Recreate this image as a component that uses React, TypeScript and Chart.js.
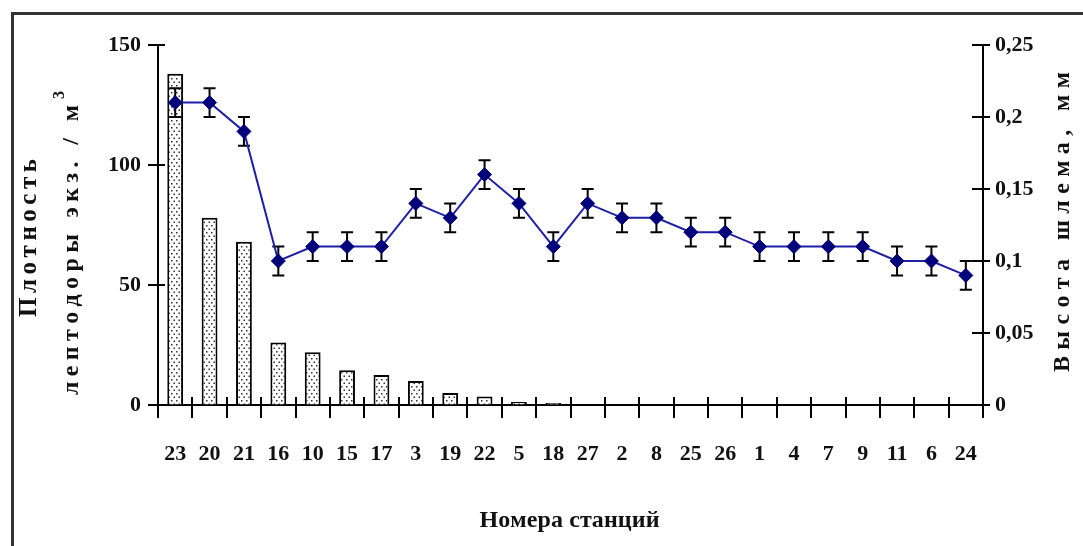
import React, { useEffect, useRef } from 'react';
import { Chart, registerables } from 'chart.js';

Chart.register(...registerables);

// ---- data ----
const stations = ['23', '20', '21', '16', '10', '15', '17', '3', '19', '22', '5', '18', '27', '2', '8', '25', '26', '1', '4', '7', '9', '11', '6', '24'];
const leptodoraDensity = [138, 78, 68, 26, 22, 14.5, 12.5, 10, 5, 3.5, 1.2, 0.8, 0, 0, 0, 0, 0, 0, 0, 0, 0, 0, 0, 0];
const helmetHeight = [0.21, 0.21, 0.19, 0.10, 0.11, 0.11, 0.11, 0.14, 0.13, 0.16, 0.14, 0.11, 0.14, 0.13, 0.13, 0.12, 0.12, 0.11, 0.11, 0.11, 0.11, 0.10, 0.10, 0.09];
const helmetError = [0.01, 0.01, 0.01, 0.01, 0.01, 0.01, 0.01, 0.01, 0.01, 0.01, 0.01, 0.01, 0.01, 0.01, 0.01, 0.01, 0.01, 0.01, 0.01, 0.01, 0.01, 0.01, 0.01, 0.01];
const densityAxis = { min: 0, max: 150, step: 50 };
const heightAxis = { min: 0, max: 0.25, step: 0.05 };

const xTitle = 'Номера станций';
const yTitleLine1 = 'Плотность';
const yTitleLine2 = 'лептодоры экз. / м';
const yTitleSup = '3';
const y1Title = 'Высота шлема, мм';

const FONT = "'Liberation Serif', 'Times New Roman', serif";

function drawSpaced(ctx: CanvasRenderingContext2D, text: string, cx: number, cy: number, angle: number, font: string, span: number) {
  ctx.save();
  ctx.translate(cx, cy);
  ctx.rotate(angle);
  ctx.font = font;
  ctx.fillStyle = '#111';
  ctx.textBaseline = 'middle';
  ctx.textAlign = 'left';
  const chars = Array.from(text);
  const widths = chars.map((c) => ctx.measureText(c).width);
  const total = widths.reduce((a, b) => a + b, 0);
  const gap = chars.length > 1 ? (span - total) / (chars.length - 1) : 0;
  let x = -span / 2;
  chars.forEach((c, i) => {
    ctx.fillText(c, x, 0);
    x += widths[i] + gap;
  });
  ctx.restore();
}

const titlesPlugin = {
  id: 'titles',
  afterDraw(chart: any) {
    const ctx: CanvasRenderingContext2D = chart.ctx;
    const a = chart.chartArea;
    // left titles
    drawSpaced(ctx, yTitleLine1, 30, 238, -Math.PI / 2, `bold 25px ${FONT}`, 158);
    drawSpaced(ctx, yTitleLine2, 72, 250, -Math.PI / 2, `bold 24px ${FONT}`, 290);
    ctx.save();
    ctx.translate(60, 250 - 290 / 2 - 10);
    ctx.rotate(-Math.PI / 2);
    ctx.font = `bold 16px ${FONT}`;
    ctx.fillStyle = '#111';
    ctx.textBaseline = 'middle';
    ctx.textAlign = 'center';
    ctx.fillText(yTitleSup, 0, 0);
    ctx.restore();
    // right title
    drawSpaced(ctx, y1Title, 1063, 222, -Math.PI / 2, `bold 24px ${FONT}`, 300);
    // bottom title
    drawSpaced(ctx, xTitle, (a.left + a.right) / 2 - 1, 521, 0, `bold 24px ${FONT}`, 180);
  },
};

const axisTicksPlugin = {
  id: 'axisTicks',
  afterDraw(chart: any) {
    const ctx: CanvasRenderingContext2D = chart.ctx;
    const a = chart.chartArea;
    const { x, y, y1 } = chart.scales;
    ctx.save();
    ctx.strokeStyle = '#000';
    ctx.lineWidth = 2;
    const seg = (x0: number, y0: number, x2: number, y2: number) => {
      ctx.beginPath();
      ctx.moveTo(x0, y0);
      ctx.lineTo(x2, y2);
      ctx.stroke();
    };
    y.ticks.forEach((t: any) => {
      const py = Math.round(y.getPixelForValue(t.value));
      seg(a.left - 10, py, a.left + 7, py);
    });
    y1.ticks.forEach((t: any) => {
      const py = Math.round(y1.getPixelForValue(t.value));
      seg(a.right - 11, py, a.right + 7, py);
    });
    for (let i = 0; i <= stations.length; i++) {
      const px = Math.round(x.getPixelForValue(i - 0.5));
      seg(px, a.bottom - 8, px, a.bottom + 13);
    }
    ctx.restore();
  },
};

const errorBarsPlugin = {
  id: 'errorBars',
  beforeDatasetDraw(chart: any, args: any) {
    if (args.index !== 1) return;
    const ctx: CanvasRenderingContext2D = chart.ctx;
    const { x, y1 } = chart.scales;
    ctx.save();
    ctx.strokeStyle = '#000';
    ctx.lineWidth = 2;
    helmetHeight.forEach((v, i) => {
      const px = x.getPixelForValue(i);
      const top = y1.getPixelForValue(v + helmetError[i]);
      const bot = y1.getPixelForValue(v - helmetError[i]);
      ctx.beginPath();
      ctx.moveTo(px, top);
      ctx.lineTo(px, bot);
      ctx.moveTo(px - 6, top);
      ctx.lineTo(px + 6, top);
      ctx.moveTo(px - 6, bot);
      ctx.lineTo(px + 6, bot);
      ctx.stroke();
    });
    ctx.restore();
  },
};

function makeDotPattern(): CanvasPattern | string {
  const c = document.createElement('canvas');
  c.width = 5;
  c.height = 7;
  const g = c.getContext('2d');
  if (!g) return '#fff';
  g.fillStyle = '#fff';
  g.fillRect(0, 0, 5, 7);
  g.fillStyle = '#333';
  g.fillRect(1, 1, 1.5, 1.5);
  g.fillRect(3.5, 4.5, 1.5, 1.5);
  const p = g.createPattern(c, 'repeat');
  return p || '#fff';
}

function fmtComma(v: number): string {
  const r = Math.round(v * 100) / 100;
  return String(r).replace('.', ',');
}

export default function App() {
  const ref = useRef<HTMLCanvasElement>(null);

  useEffect(() => {
    const canvas = ref.current;
    if (!canvas) return;
    const pattern = makeDotPattern();
    const chart = new Chart(canvas, {
      type: 'bar',
      data: {
        labels: stations,
        datasets: [
          {
            type: 'bar',
            label: 'Плотность',
            data: leptodoraDensity,
            yAxisID: 'y',
            backgroundColor: pattern as any,
            borderColor: '#000',
            borderWidth: 2,
            barPercentage: 0.92,
            categoryPercentage: 0.5,
            order: 2,
          },
          {
            type: 'line',
            label: 'Высота шлема',
            data: helmetHeight,
            yAxisID: 'y1',
            borderColor: '#1e1ea8',
            borderWidth: 2,
            pointStyle: 'rectRot',
            pointRadius: 7,
            pointBackgroundColor: '#00007a',
            pointBorderColor: '#00007a',
            pointBorderWidth: 1,
            tension: 0,
            order: 1,
          },
        ],
      },
      options: {
        animation: false,
        responsive: false,
        devicePixelRatio: 1,
        layout: { padding: { top: 45, left: 0, right: 0, bottom: 0 } },
        plugins: {
          legend: { display: false },
          tooltip: { enabled: false },
        },
        scales: {
          x: {
            offset: true,
            afterFit: (s: any) => { s.height = 141; },
            grid: { display: true, drawOnChartArea: false, drawTicks: true, tickLength: 10, color: 'rgba(0,0,0,0)', offset: true },
            border: { display: true, color: '#000', width: 2 },
            ticks: {
              autoSkip: false,
              maxRotation: 0,
              padding: 26,
              color: '#111',
              font: { family: FONT, size: 22, weight: 'bold' },
            },
          },
          y: {
            position: 'left',
            min: densityAxis.min,
            max: densityAxis.max,
            afterFit: (s: any) => { s.width = 158; },
            grid: { display: true, drawOnChartArea: false, drawTicks: true, tickLength: 10, color: 'rgba(0,0,0,0)' },
            border: { display: true, color: '#000', width: 2 },
            ticks: {
              stepSize: densityAxis.step,
              padding: 7,
              color: '#111',
              font: { family: FONT, size: 22, weight: 'bold' },
            },
          },
          y1: {
            position: 'right',
            min: heightAxis.min,
            max: heightAxis.max,
            afterFit: (s: any) => { s.width = 100; },
            grid: { display: true, drawOnChartArea: false, drawTicks: true, tickLength: 10, color: 'rgba(0,0,0,0)' },
            border: { display: true, color: '#000', width: 2 },
            ticks: {
              stepSize: heightAxis.step,
              padding: 2,
              color: '#111',
              font: { family: FONT, size: 22, weight: 'bold' },
              callback: (v: any) => fmtComma(Number(v)),
            },
          },
        },
      },
      plugins: [errorBarsPlugin, axisTicksPlugin, titlesPlugin],
    } as any);
    return () => chart.destroy();
  }, []);

  return (
    <div style={{ position: 'fixed', left: 0, top: 0, width: 1083, height: 546, overflow: 'hidden', background: '#fff' }}>
      <div style={{ position: 'absolute', left: 11, top: 12, width: 1100, height: 600, border: '3px solid #333' }} />
      <canvas ref={ref} width={1083} height={546} style={{ position: 'absolute', left: 0, top: 0, width: 1083, height: 546, display: 'block' }} />
    </div>
  );
}
